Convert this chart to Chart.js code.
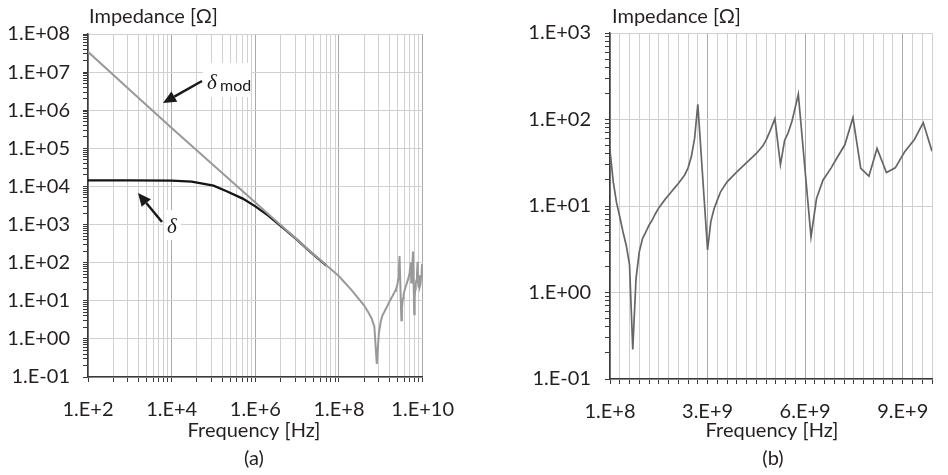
<!DOCTYPE html>
<html>
<head>
<meta charset="utf-8">
<script src="https://cdn.jsdelivr.net/npm/chart.js@4.4.0/dist/chart.umd.min.js"></script>
<style>
  body { margin: 0; background: #fff; }
  #wrap { position: relative; width: 948px; height: 475px; }
  canvas { position: absolute; top: 0; }
</style>
</head>
<body>
<div id="wrap">
  <canvas id="chartA" width="470" height="475" style="left:0"></canvas>
  <canvas id="chartB" width="478" height="475" style="left:470px"></canvas>
</div>
<script>
// (a) low frequency part, Hz -> Ohm
var freqLow = [1e2, 1e3, 1e4, 1e5, 1e6, 1e7, 2e7, 5e7];
var deltaModLow = [3.4e7, 3.4e6, 3.4e5, 3.6e4, 3.8e3, 400, 200, 85];
var freqDelta = [1e2, 1e3, 1e4, 3e4, 1e5, 2e5, 5e5, 1e6, 2e6, 5e6, 1e7, 2e7, 5e7];
var delta = [1.45e4, 1.45e4, 1.42e4, 1.33e4, 1.05e4, 7.6e3, 4.8e3, 3.0e3, 1.75e3, 760, 395, 198, 84];

// (b) 0.1 - 10 GHz, frequency in GHz -> Ohm
var freqHigh = [0.1, 0.2, 0.3, 0.4, 0.5, 0.6, 0.7, 0.8, 0.9, 1.0, 1.1, 1.2, 1.3, 1.4, 1.5, 1.6, 1.7, 1.8, 1.9, 2.0,
  2.1, 2.2, 2.3, 2.4, 2.5, 2.6, 2.7, 2.8, 3.1, 3.2, 3.3, 3.4, 3.5, 3.7, 4.0, 4.3, 4.6, 4.8, 4.9, 5.03,
  5.17, 5.34, 5.47, 5.57, 5.69, 5.89, 6.28, 6.45, 6.65, 6.75, 6.9, 7.04, 7.32, 7.57, 7.81, 8.06, 8.31, 8.6, 8.87, 9.16,
  9.46, 9.73, 10.0];
var impHigh = [44, 19, 11, 7.5, 5.0, 3.5, 2.1, 0.22, 1.45, 2.95, 4.2, 5.0, 6.0, 6.9, 8.2, 9.5, 10.7, 12, 13.3, 14.8,
  16.4, 18.2, 20.4, 23, 27.6, 37, 60, 150, 3.1, 6.6, 9.3, 11.7, 14.6, 19, 24.8, 31.8, 40.5, 49.6, 57.7, 75,
  102, 30, 57.7, 69, 94, 196, 4.4, 12.2, 20, 22.7, 27.6, 34, 51, 105, 27.2, 22.1, 46.3, 24.4, 27.6, 42.3,
  58.7, 92, 43];

var TXT = '#231f20';
var GRID = '#d0d0d0';
var GRID_MAJOR = '#a9a9a9';
var AXIS = '#3a3a3a';

Chart.defaults.font.family = 'Lato';
Chart.defaults.font.size = 20;
Chart.defaults.color = TXT;
Chart.defaults.animation = false;

function isDecade(v) {
  var l = Math.log10(v);
  return Math.abs(l - Math.round(l)) < 1e-6;
}
function expLabel(v, pad) {
  var e = Math.round(Math.log10(v));
  var s = String(Math.abs(e));
  if (pad && s.length < 2) s = '0' + s;
  return '1.E' + (e < 0 ? '-' : '+') + s;
}
function logTicks(lo, hi) { // lo, hi exponents
  var out = [];
  for (var n = lo; n < hi; n++) {
    for (var k = 1; k <= 9; k++) out.push(k * Math.pow(10, n));
  }
  out.push(Math.pow(10, hi));
  return out;
}
function toPts(xs, ys, mul) {
  return xs.map(function (x, i) { return { x: x * (mul || 1), y: ys[i] }; });
}

function drawArrow(ctx, x1, y1, x2, y2) {
  var a = Math.atan2(y2 - y1, x2 - x1);
  var hl = 13, hw = 6;
  var bx = x2 - hl * Math.cos(a), by = y2 - hl * Math.sin(a);
  ctx.strokeStyle = '#1a1a1a';
  ctx.fillStyle = '#1a1a1a';
  ctx.lineWidth = 2.5;
  ctx.beginPath();
  ctx.moveTo(x1, y1);
  ctx.lineTo(bx, by);
  ctx.stroke();
  ctx.beginPath();
  ctx.moveTo(x2, y2);
  ctx.lineTo(bx + hw * Math.sin(a), by - hw * Math.cos(a));
  ctx.lineTo(bx - hw * Math.sin(a), by + hw * Math.cos(a));
  ctx.closePath();
  ctx.fill();
}

function textPlugin(o) {
  return {
    id: 'texts',
    beforeDatasetsDraw: function (chart) {
      if (!o.boxes) return;
      var ctx = chart.ctx;
      ctx.save();
      ctx.fillStyle = '#fff';
      o.boxes.forEach(function (b) { ctx.fillRect(b[0], b[1], b[2], b[3]); });
      ctx.restore();
    },
    afterDraw: function (chart) {
      var ctx = chart.ctx;
      ctx.save();
      ctx.fillStyle = TXT;
      ctx.font = '20px Lato';
      ctx.textBaseline = 'alphabetic';
      ctx.textAlign = 'left';
      ctx.fillText('Impedance [Ω]', o.yTitleX, 22.5);
      ctx.textAlign = 'center';
      ctx.fillText('Frequency [Hz]', o.xTitleX, 437);
      ctx.fillText(o.tag, o.tagX, 465);
      if (o.extra) o.extra(ctx);
      ctx.restore();
    }
  };
}

// ---------- chart (a) ----------
var xTicksA = [];
[1e2, 1e4, 1e6, 1e8].forEach(function (n) {
  xTicksA.push(n);
  for (var k = 2; k <= 9; k++) xTicksA.push(n * k * k);
});
xTicksA.push(1e10);

var modPts = toPts(freqLow, deltaModLow).concat(toPts(freqHigh, impHigh, 1e9));

new Chart(document.getElementById('chartA'), {
  type: 'line',
  data: {
    datasets: [{
      label: 'δmod',
      data: modPts,
      borderColor: '#999999',
      borderWidth: 2,
      pointRadius: 0,
      tension: 0
    }, {
      label: 'δ',
      data: toPts(freqDelta, delta),
      borderColor: '#151515',
      borderWidth: 2.3,
      pointRadius: 0,
      tension: 0
    }]
  },
  options: {
    responsive: false,
    layout: { padding: { left: 0, right: 37, top: 34, bottom: 0 } },
    plugins: { legend: { display: false }, tooltip: { enabled: false } },
    scales: {
      x: {
        type: 'logarithmic',
        min: 1e2,
        max: 1e10,
        afterBuildTicks: function (s) { s.ticks = xTicksA.map(function (v) { return { value: v }; }); },
        afterFit: function (s) { s.height = 98; },
        ticks: {
          autoSkip: false, maxRotation: 0, padding: 16,
          callback: function (v) { return (Math.round(Math.log10(v)) % 2 === 0 && isDecade(v)) ? expLabel(v, false) : ''; }
        },
        grid: {
          color: function (c) { return c.tick && isDecade(c.tick.value) ? GRID_MAJOR : GRID; },
          tickColor: AXIS, tickLength: 5
        },
        border: { color: AXIS, width: 1.5 }
      },
      y: {
        type: 'logarithmic',
        min: 0.1,
        max: 1e8,
        afterBuildTicks: function (s) { s.ticks = logTicks(-1, 8).map(function (v) { return { value: v }; }); },
        afterFit: function (s) { s.width = 88; },
        ticks: {
          autoSkip: false, padding: 13,
          callback: function (v) { return isDecade(v) ? expLabel(v, true) : ''; }
        },
        grid: {
          color: function (c) { return c.tick && isDecade(c.tick.value) ? GRID : 'rgba(0,0,0,0)'; },
          tickColor: AXIS, tickLength: 5
        },
        border: { color: AXIS, width: 1.5 }
      }
    }
  },
  plugins: [textPlugin({
    yTitleX: 89, xTitleX: 254, tag: '(a)', tagX: 254,
    boxes: [[203, 63, 48, 34], [164, 210, 17, 30]],
    extra: function (ctx) {
      drawArrow(ctx, 202, 81, 163, 103);
      drawArrow(ctx, 162, 222, 138, 193);
      ctx.textAlign = 'left';
      ctx.font = 'italic 21px "Liberation Serif"';
      ctx.fillText('δ', 207, 89);
      ctx.fillText('δ', 167, 233);
      ctx.font = '16px Lato';
      ctx.fillText('mod', 220, 91);
    }
  })]
});

// ---------- chart (b) ----------
var xTicksB = [];
for (var k = 0; k <= 33; k++) xTicksB.push(1e8 + 3e8 * k);

new Chart(document.getElementById('chartB'), {
  type: 'line',
  data: {
    datasets: [{
      label: 'Impedance',
      data: toPts(freqHigh, impHigh, 1e9),
      borderColor: '#666666',
      borderWidth: 1.7,
      pointRadius: 0,
      tension: 0
    }]
  },
  options: {
    responsive: false,
    layout: { padding: { left: 0, right: 3, top: 33, bottom: 0 } },
    plugins: { legend: { display: false }, tooltip: { enabled: false } },
    scales: {
      x: {
        type: 'linear',
        min: 1e8,
        max: 1e10,
        afterBuildTicks: function (s) { s.ticks = xTicksB.map(function (v) { return { value: v }; }); },
        afterFit: function (s) { s.height = 96; },
        ticks: {
          autoSkip: false, maxRotation: 0, padding: 16,
          callback: function (v, i) { return i % 10 === 0 ? v.toExponential(0).replace('e', '.E') : ''; }
        },
        grid: {
          color: function (c) { return c.index % 10 === 0 ? GRID_MAJOR : GRID; },
          tickColor: AXIS, tickLength: 5
        },
        border: { color: AXIS, width: 1.5 }
      },
      y: {
        type: 'logarithmic',
        min: 0.1,
        max: 1e3,
        afterBuildTicks: function (s) { s.ticks = logTicks(-1, 3).map(function (v) { return { value: v }; }); },
        afterFit: function (s) { s.width = 140; },
        ticks: {
          autoSkip: false, padding: 14,
          callback: function (v) { return isDecade(v) ? expLabel(v, true) : ''; }
        },
        grid: {
          color: function (c) { return c.tick && isDecade(c.tick.value) ? GRID : 'rgba(0,0,0,0)'; },
          tickColor: AXIS, tickLength: 5
        },
        border: { color: AXIS, width: 1.5 }
      }
    }
  },
  plugins: [textPlugin({ yTitleX: 142, xTitleX: 302, tag: '(b)', tagX: 303 })]
});
</script>
</body>
</html>
